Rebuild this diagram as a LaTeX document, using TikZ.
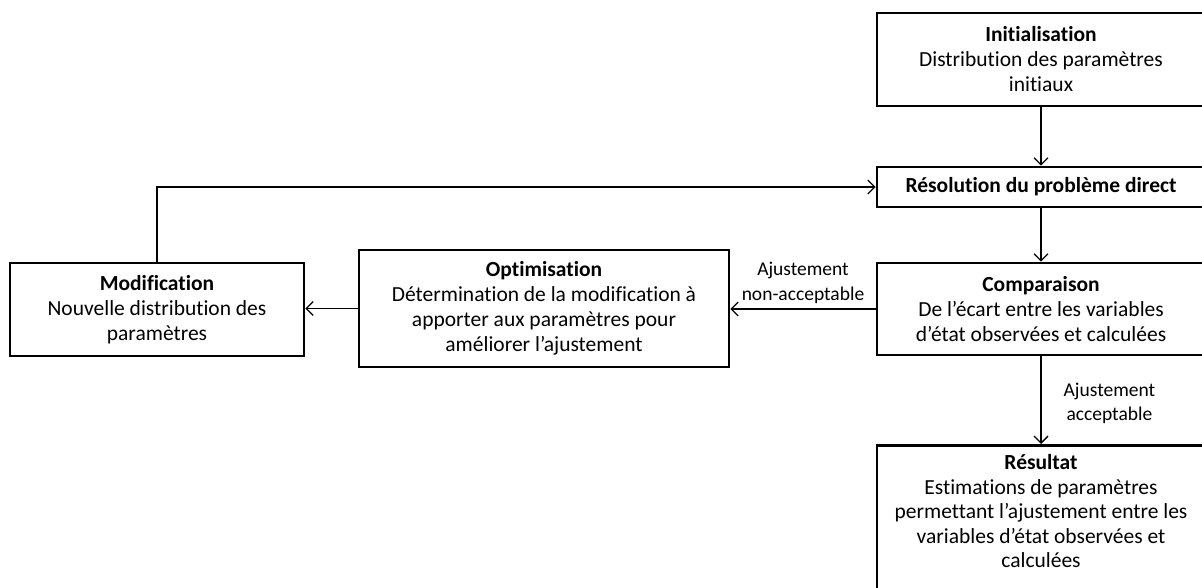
\documentclass[tikz,border=0pt]{standalone}
\usepackage{fontspec}
\setmainfont{Carlito}[Ligatures=NoCommon]
\usetikzlibrary{arrows.meta}
\begin{document}
\begin{tikzpicture}[x=1pt,y=-1pt,
  stepbox/.style={draw, line width=2.6pt, rectangle, inner sep=0pt, align=center,
    font=\fontsize{21.5}{25}\selectfont},
  txt/.style={align=center, inner sep=0pt, font=\fontsize{21.5}{24.5}\selectfont},
  lbl/.style={align=center, inner sep=0pt, font=\fontsize{19.5}{24.5}\selectfont},
  conn/.style={line width=1.3pt, -{Straight Barb[length=7pt,width=14pt,line width=1.3pt]}}]
\useasboundingbox (0,0) rectangle (1202,588);

% boxes on the right-hand column
\node[stepbox, minimum width=328, minimum height=93] (init) at (1041,59.5)
  {\textbf{Initialisation}\\Distribution des paramètres\\initiaux};
\node[stepbox, minimum width=328, minimum height=40] (resol) at (1041,187)
  {\textbf{Résolution du problème direct}};
\node[stepbox, minimum width=328, minimum height=92] (comp) at (1041,309)
  {\textbf{Comparaison}\\De l’écart entre les variables\\d’état observées et calculées};
\node[stepbox, minimum width=328, minimum height=170, anchor=north] (res) at (1041,444) {};
\node[txt] (restext) at (1041,511.5)
  {\textbf{Résultat}\\Estimations de paramètres\\permettant l’ajustement entre les\\variables d’état observées et\\calculées};

% boxes on the left
\node[stepbox, minimum width=370, minimum height=117] (opt) at (544,308.5)
  {\textbf{Optimisation}\\Détermination de la modification à\\apporter aux paramètres pour\\améliorer l’ajustement};
\node[stepbox, minimum width=294, minimum height=93] (mod) at (157,309.5)
  {\textbf{Modification}\\Nouvelle distribution des\\paramètres};

% connectors
\draw[conn] (init) -- (resol);
\draw[conn] (resol) -- (comp);
\draw[conn] (comp) -- node[lbl, right=22pt, yshift=-3pt] (acc) {Ajustement\\acceptable} (res);
\draw[conn] (comp.west) -- node[lbl, above=5pt] (nacc) {Ajustement\\non-acceptable} (comp.west -| opt.east);
\draw[conn] (opt.west) -- (opt.west -| mod.east);
\draw[conn] (mod.north) |- (resol.west);
\end{tikzpicture}
\end{document}
